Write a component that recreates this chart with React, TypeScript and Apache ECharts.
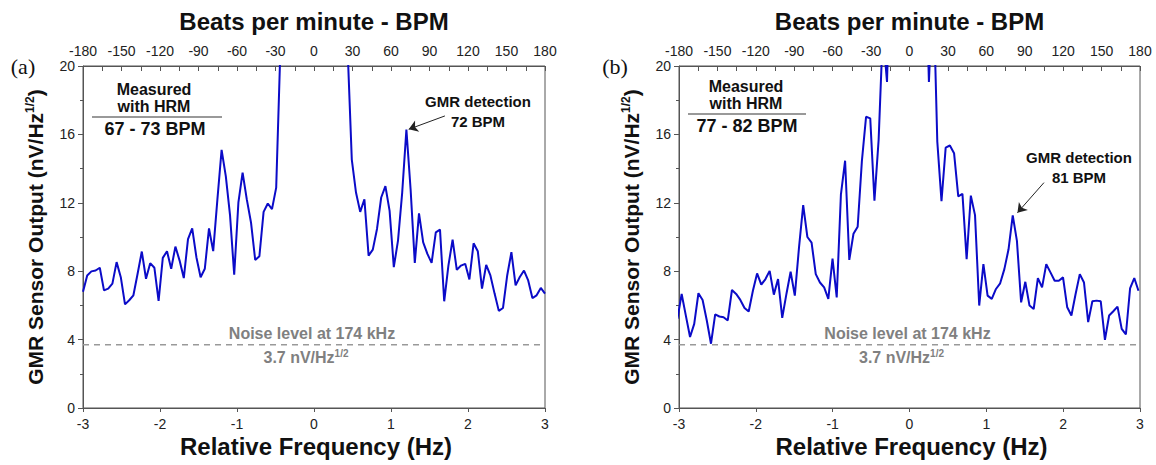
import React, { useEffect, useRef } from "react";
import * as echarts from "echarts";

// ---------- data ----------
const FREQ_STEP = 6 / 110; // Hz between spectrum bins
const FREQ_START_A = -3.0;
const FREQ_START_B = -3.02;

// Panel (a): GMR sensor output (nV/Hz^1/2), HRM 67-73 BPM
const valuesA = [
  6.8, 7.75, 7.99, 8.04, 8.2, 6.88, 6.98, 7.27, 8.53, 7.65,
  6.06, 6.3, 6.59, 7.85, 9.15, 7.56, 8.47, 8.2, 6.26, 8.78,
  9.17, 8.14, 9.44, 8.62, 7.6, 9.88, 10.5, 8.82, 7.65, 8.14,
  10.5, 9.17, 12.2, 15.1, 13.56, 11.3, 7.79, 12.02, 13.76, 12.2,
  10.85, 8.66, 8.88, 11.47, 11.96, 11.63, 12.89, 21,
  30, 42, 55, 70, 85, 100, 112, 118, 112, 100, 85, 68, 52, 38, 28,
  21,
  14.53, 12.6, 11.47, 12.21, 8.91, 9.26, 10.47, 12.31, 12.98, 11.53,
  8.24, 9.79, 12.6, 16.28, 12.79, 8.49, 11.38, 9.69, 9.01, 8.49,
  10.27, 10.43, 6.24, 8.33, 9.84, 8.08, 8.33, 8.43, 7.52, 9.63,
  9.17, 6.98, 8.37, 7.75, 6.69, 5.68, 5.85, 7.75, 9.11, 7.17,
  7.66, 8.04, 7.46, 6.43, 6.59, 7.02, 6.69,
];

// Panel (b): GMR sensor output (nV/Hz^1/2), HRM 77-82 BPM
const valuesB = [
  5.22, 6.67, 5.4, 4.15, 4.92, 6.71, 6.32, 5.12, 3.76, 5.47,
  5.35, 5.31, 5.12, 6.9, 6.67, 6.32, 5.85, 5.64, 6.86, 7.87,
  7.21, 7.54, 8.02, 6.63, 7.54, 5.27, 6.67, 7.97, 6.57, 9.38,
  11.86, 10.0, 9.67, 7.83, 7.34, 7.05, 6.38, 8.74, 6.47, 12.48,
  14.46, 8.66, 10.19, 10.6, 14.42, 17.03, 16.94, 12.13, 15.68, 22,
  19.07, 28, 40, 55, 70, 78, 70, 55, 40, 28,
  19.07, 25,
  15.58, 12.09, 15.23, 15.35, 14.9, 12.38, 12.52, 8.7, 12.42, 11.28,
  5.99, 8.41, 6.57, 6.38, 6.96, 7.29, 8.12, 9.28, 11.26, 9.77,
  6.18, 7.38, 5.99, 5.79, 7.6, 7.05, 8.41, 7.93, 7.44, 7.44,
  7.64, 5.89, 5.41, 6.67, 7.83, 7.34, 5.02, 6.24, 6.28, 6.24,
  3.99, 5.41, 5.66, 5.93, 4.63, 4.3, 7.0, 7.6, 6.86,
];

const NOISE_LEVEL = 3.7;
const HZ_RANGE = [-3, 3];
const BPM_RANGE = [-180, 180];
const Y_RANGE = [0, 20];

// annotation arrows [tail, head] in (Hz, value)
const arrowA = [[1.7, 17.08], [1.23, 16.3]];
const arrowB = [[1.75, 13.18], [1.405, 11.42]];

const hrmA = "67 - 73 BPM";
const hrmB = "77 - 82 BPM";
const gmrA = "72 BPM";
const gmrB = "81 BPM";

// ---------- layout ----------
const FONT = "'Liberation Sans', Arial, Helvetica, sans-serif";
const GA = { left: 83, top: 66, width: 462, height: 342 };
const GB = { left: 679, top: 66, width: 461, height: 342 };
const AXIS_COLOR = "#555";
const LABEL_COLOR = "#222";
const LINE_BLUE = "#0b0bc8";
const GRAY = "#808080";

function toPairs(start: number, vals: number[]) {
  return vals.map((v, i) => [start + i * FREQ_STEP, v]);
}

function hzAxis(gridIndex: number) {
  return {
    gridIndex,
    type: "value",
    min: HZ_RANGE[0],
    max: HZ_RANGE[1],
    interval: 1,
    position: "bottom",
    axisLine: { onZero: false, lineStyle: { color: AXIS_COLOR, width: 1 } },
    axisTick: { length: 4, lineStyle: { color: AXIS_COLOR } },
    axisLabel: { margin: 9, fontSize: 14, color: LABEL_COLOR, fontFamily: FONT },
    splitLine: { show: false },
  };
}

function bpmAxis(gridIndex: number) {
  return {
    gridIndex,
    type: "value",
    min: BPM_RANGE[0],
    max: BPM_RANGE[1],
    interval: 30,
    position: "top",
    axisLine: { onZero: false, lineStyle: { color: AXIS_COLOR, width: 1 } },
    axisTick: { inside: true, length: 5, lineStyle: { color: AXIS_COLOR } },
    minorTick: { show: true, splitNumber: 2, length: 5, lineStyle: { color: AXIS_COLOR } },
    axisLabel: { margin: 8, fontSize: 14, color: LABEL_COLOR, fontFamily: FONT },
    splitLine: { show: false },
    minorSplitLine: { show: false },
  };
}

function yAxis(gridIndex: number) {
  return {
    gridIndex,
    type: "value",
    min: Y_RANGE[0],
    max: Y_RANGE[1],
    interval: 4,
    axisLine: { show: true, onZero: false, lineStyle: { color: AXIS_COLOR, width: 1 } },
    axisTick: { show: true, length: 5, lineStyle: { color: AXIS_COLOR } },
    minorTick: { show: true, splitNumber: 2, length: 3, lineStyle: { color: AXIS_COLOR } },
    axisLabel: { margin: 8, fontSize: 14, color: LABEL_COLOR, fontFamily: FONT },
    splitLine: { show: false },
    minorSplitLine: { show: false },
  };
}

function mainSeries(idx: number, data: number[][], arrow: number[][]) {
  return {
    type: "line",
    xAxisIndex: idx * 2,
    yAxisIndex: idx,
    data,
    showSymbol: false,
    clip: true,
    lineStyle: { color: LINE_BLUE, width: 2 },
    itemStyle: { color: LINE_BLUE },
    z: 3,
    markLine: {
      silent: true,
      symbol: ["none", "arrow"],
      symbolSize: 9,
      label: { show: false },
      lineStyle: { color: "#222", width: 1, type: "solid" },
      data: [[{ coord: arrow[0] }, { coord: arrow[1] }]],
    },
  };
}

function noiseSeries(idx: number) {
  return {
    type: "line",
    xAxisIndex: idx * 2,
    yAxisIndex: idx,
    data: [
      [HZ_RANGE[0], NOISE_LEVEL],
      [HZ_RANGE[1], NOISE_LEVEL],
    ],
    showSymbol: false,
    lineStyle: { color: "#999", width: 1.5, type: [6, 5] },
    z: 2,
  };
}

function txt(x: number, y: number, text: string, size: number, opts: any = {}) {
  return {
    type: "text",
    x,
    y,
    silent: true,
    style: {
      text,
      fontSize: size,
      fontWeight: opts.weight || "bold",
      fontFamily: opts.family || FONT,
      fill: opts.color || "#111",
      align: opts.align || "center",
      verticalAlign: "middle",
      rich: opts.rich,
    },
    rotation: opts.rotation || 0,
  };
}

function panelGraphics(g: any, letter: string, letterX: number, hrm: string, gmr: string, m: any) {
  const cx = g.left + g.width / 2;
  const cy = g.top + g.height / 2;
  const supRich = {
    a: { fontSize: 21, fontWeight: "bold", fontFamily: FONT, fill: "#111" },
    s: { fontSize: 12, fontWeight: "bold", fontFamily: FONT, fill: "#111", verticalAlign: "top", padding: [0, 0, 10, 0] },
  };
  const noiseRich = {
    a: { fontSize: 16, fontWeight: "bold", fontFamily: FONT, fill: GRAY },
    s: { fontSize: 10, fontWeight: "bold", fontFamily: FONT, fill: GRAY, verticalAlign: "top", padding: [0, 0, 8, 0] },
  };
  return [
    txt(cx, 21, "Beats per minute - BPM", 24),
    txt(cx + 2, 446, "Relative Frequency (Hz)", 24),
    txt(letterX, 66, letter, 22, { weight: "normal", family: "'Liberation Serif', 'Times New Roman', serif" }),
    txt(g.left - 48, cy, "{a|GMR Sensor Output (nV/Hz}{s|1/2}{a|)}", 21, { rotation: Math.PI / 2, rich: supRich }),
    // HRM box
    txt(m.hx, m.hy, "Measured", 16),
    txt(m.hx, m.hy + 17, "with HRM", 16),
    {
      type: "line",
      silent: true,
      shape: { x1: m.lx1, y1: m.hy + 28, x2: m.lx2, y2: m.hy + 28 },
      style: { stroke: "#777", lineWidth: 1.5 },
    },
    txt(m.hx + 1, m.hy + 40, hrm, 18),
    // GMR detection
    txt(m.gx, m.gy, "GMR detection", 15),
    txt(m.gx, m.gy + 20, gmr, 15),
    // noise
    txt(cx - 2, 333, "Noise level at 174 kHz", 16, { color: GRAY }),
    txt(cx - 8, 357, "{a|3.7 nV/Hz}{s|1/2}", 16, { color: GRAY, rich: noiseRich }),
  ];
}

export default function App() {
  const ref = useRef<HTMLDivElement>(null);

  useEffect(() => {
    if (!ref.current) return;
    const chart = echarts.init(ref.current, undefined, { renderer: "svg" });
    const dataA = toPairs(FREQ_START_A, valuesA);
    const dataB = toPairs(FREQ_START_B, valuesB);

    const option: any = {
      animation: false,
      backgroundColor: "#fff",
      grid: [
        { ...GA, show: true, borderColor: AXIS_COLOR, borderWidth: 1, backgroundColor: "transparent" },
        { ...GB, show: true, borderColor: AXIS_COLOR, borderWidth: 1, backgroundColor: "transparent" },
      ],
      xAxis: [hzAxis(0), bpmAxis(0), hzAxis(1), bpmAxis(1)],
      yAxis: [yAxis(0), yAxis(1)],
      series: [
        noiseSeries(0),
        mainSeries(0, dataA, arrowA),
        noiseSeries(1),
        mainSeries(1, dataB, arrowB),
      ],
      graphic: [
        ...panelGraphics(GA, "(a)", 23, hrmA, gmrA, { hx: 154, hy: 89, lx1: 92, lx2: 222, gx: 478, gy: 101 }),
        ...panelGraphics(GB, "(b)", 615, hrmB, gmrB, { hx: 746, hy: 86, lx1: 688, lx2: 806, gx: 1079, gy: 157 }),
      ],
    };
    chart.setOption(option);
    return () => chart.dispose();
  }, []);

  return (
    <div
      ref={ref}
      style={{ position: "absolute", left: 0, top: 0, width: 1156, height: 465, background: "#fff" }}
    />
  );
}
